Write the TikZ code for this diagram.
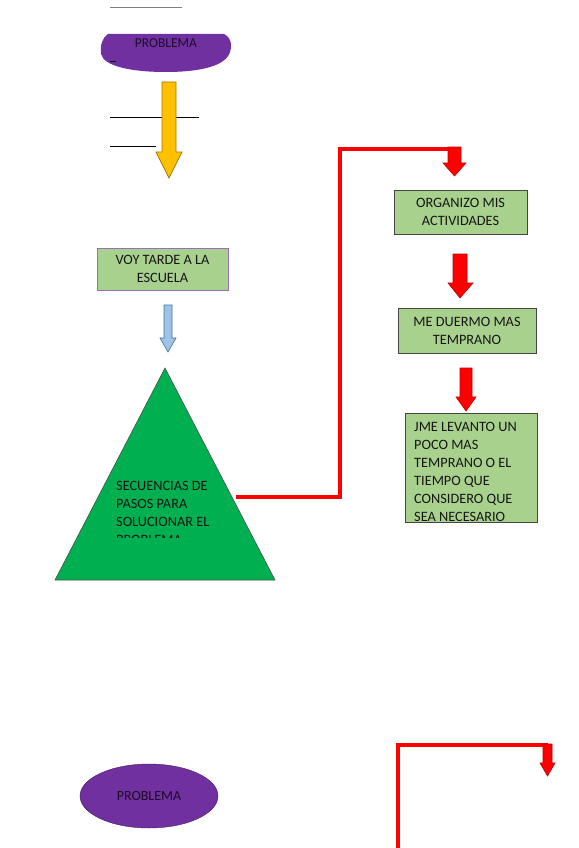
\documentclass[tikz,border=0pt]{standalone}
\usepackage{fontspec}
\setmainfont{Carlito}
\usetikzlibrary{shapes.geometric}
\definecolor{purple}{RGB}{112,48,160}
\definecolor{lightgreen}{RGB}{169,209,142}
\definecolor{green}{RGB}{0,176,80}
\definecolor{yellow}{RGB}{255,192,0}
\definecolor{darkyellow}{RGB}{160,120,0}
\definecolor{lightblue}{RGB}{157,195,230}
\definecolor{darkblue}{RGB}{65,113,156}
\definecolor{red}{RGB}{255,0,0}
\definecolor{ink}{RGB}{22,22,22}
\tikzstyle{problema}=[ellipse, fill=purple, draw=purple!60!black, text=purple!25!black, font=\fontsize{14}{16}\selectfont]
\tikzstyle{paso}=[rectangle, fill=lightgreen, draw=ink!80, line width=0.8pt, text=ink, align=center, font=\fontsize{14.3}{18}\selectfont]
\tikzstyle{paso-texto}=[align=left, text=ink, inner sep=0pt, font=\fontsize{14.3}{18}\selectfont]
\tikzstyle{flecha-roja}=[fill=red, draw=red!75!black, line width=0.6pt]
\tikzstyle{linea-roja}=[draw=red, line width=3.2pt]

\begin{document}
\begin{tikzpicture}[x=1pt, y=-1pt]
\useasboundingbox (0,0) rectangle (578,848);

% first problem
\draw [gray, line width=1pt] (110,8) -- (182,8);
\fill [purple] (108,34) -- (224,34) .. controls (232,38) and (232,47) .. (230,52)
  .. controls (226,66) and (200,72) .. (166,72) .. controls (130,72) and (104,66) .. (101,54)
  .. controls (100,46) and (102,38) .. (108,34) -- cycle;
\node[text=purple!25!black, font=\fontsize{13.5}{16}\selectfont] (problema-a) at (166,43) {PROBLEMA};
\draw [black, line width=1pt] (110,62) -- (116,62);
\draw [black, line width=1pt] (110,118) -- (199,118);
\draw [black, line width=1pt] (110,146) -- (156,146);
\draw [fill=yellow, draw=darkyellow, line width=0.8pt]
  (162,82) -- (176,82) -- (176,152) -- (182,152) -- (169,178) -- (156,152) -- (162,152) -- cycle;

\node[paso, draw=purple!70, minimum width=131pt, minimum height=42pt] (tarde) at (162.5,269) {VOY TARDE A LA\\ESCUELA};
\draw [fill=lightblue, draw=darkblue, line width=0.6pt]
  (164,305) -- (172,305) -- (172,338) -- (176,338) -- (168,352) -- (160,338) -- (164,338) -- cycle;

% triangle
\draw [fill=green, draw=black!70, line width=0.6pt] (165,368) -- (275,580) -- (55,580) -- cycle;
\begin{scope}
  \clip (100,470) rectangle (240,537);
  \node[paso-texto, anchor=north west] (secuencia) at (116,481) {SECUENCIAS DE\\PASOS PARA\\SOLUCIONAR EL\\PROBLEMA};
\end{scope}
\coordinate (tri-r) at (236,497);
\coordinate (codo) at (340,149);
\coordinate (entrada) at (454.5,149);

\draw [linea-roja] (tri-r) -| (codo) -- (entrada);
\draw [flecha-roja]
  (448,147) -- (461,147) -- (461,163) -- (466,163) -- (454.5,176) -- (443,163) -- (448,163) -- cycle;

% steps
\node[paso, minimum width=133pt, minimum height=44pt] (organizo) at (460.5,212) {ORGANIZO MIS\\ACTIVIDADES};
\draw [flecha-roja]
  (453,254) -- (467,254) -- (467,283) -- (473,283) -- (460,298) -- (448,283) -- (453,283) -- cycle;
\node[paso, minimum width=138pt, minimum height=45pt] (duermo) at (467,330.5) {ME DUERMO MAS\\TEMPRANO};
\draw [flecha-roja]
  (460,368) -- (472,368) -- (472,397) -- (476,397) -- (466,411) -- (456,397) -- (460,397) -- cycle;
\node[paso, minimum width=132pt, minimum height=109pt] (levanto) at (471,467.5) {};
\begin{scope}
  \clip (406,414) rectangle (536,521);
  \node[paso-texto, anchor=north west] (levanto-texto) at (414,422) {JME LEVANTO UN\\POCO MAS\\TEMPRANO O EL\\TIEMPO QUE\\CONSIDERO QUE\\SEA NECESARIO};
\end{scope}

% second problem
\node[problema, minimum width=138pt, minimum height=64pt] (problema-b) at (149,796) {PROBLEMA};
\coordinate (abajo) at (398,850);
\coordinate (esquina) at (398,745);
\coordinate (entrada-b) at (547.5,745);
\draw [linea-roja] (abajo) -- (esquina) -- (entrada-b);
\draw [flecha-roja]
  (543,744) -- (552,744) -- (552,763) -- (555,763) -- (547.5,776) -- (540,763) -- (543,763) -- cycle;

\end{tikzpicture}
\end{document}
